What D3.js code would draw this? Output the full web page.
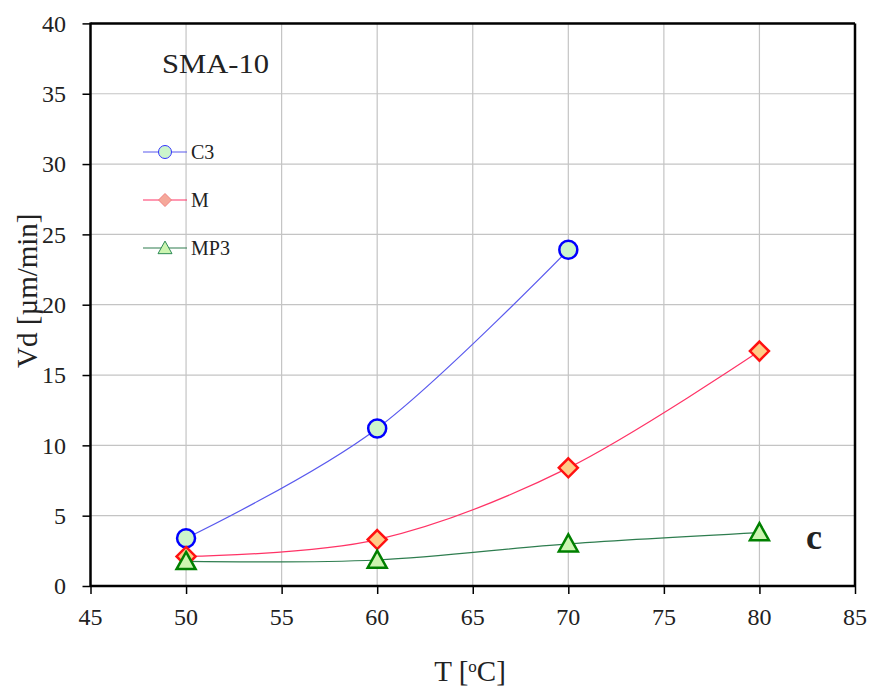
<!DOCTYPE html>
<html><head><meta charset="utf-8">
<script src="https://cdn.jsdelivr.net/npm/d3@7"></script>
<style>body{margin:0;background:#fff}svg{display:block}text{font-family:"Liberation Serif","Times New Roman",serif;fill:#222}</style>
</head><body><svg id="c" width="872" height="687"></svg>
<script>
const temps = [50, 60, 70, 80];
const c3 = [3.4, 11.2, 23.9];
const m = [2.1, 3.3, 8.4, 16.7];
const mp3 = [1.75, 1.85, 3.0, 3.8];
const xTicks = [45, 50, 55, 60, 65, 70, 75, 80, 85];
const yTicks = [0, 5, 10, 15, 20, 25, 30, 35, 40];
const seriesNames = ["C3", "M", "MP3"];

const FF = '"Liberation Serif","Times New Roman",serif';
const svg = d3.select("#c");
const L = 90.5, R = 855, T = 23.4, B = 586;
const x = d3.scaleLinear().domain([45, 85]).range([L, R]);
const y = d3.scaleLinear().domain([0, 40]).range([B, T]);

// grid
svg.append("g").selectAll("line").data(xTicks).join("line")
  .attr("x1", d => x(d)).attr("x2", d => x(d)).attr("y1", T).attr("y2", B)
  .attr("stroke", "#c4c4c4").attr("stroke-width", 1.2);
svg.append("g").selectAll("line").data(yTicks).join("line")
  .attr("y1", d => y(d)).attr("y2", d => y(d)).attr("x1", L).attr("x2", R)
  .attr("stroke", "#c4c4c4").attr("stroke-width", 1.2);

// axes (tick marks from d3.axis, labels drawn as own text)
const xa = svg.append("g").attr("transform", `translate(0,${B})`)
  .call(d3.axisBottom(x).tickValues(xTicks).tickSize(8).tickFormat(""));
const ya = svg.append("g").attr("transform", `translate(${L},0)`)
  .call(d3.axisLeft(y).tickValues(yTicks).tickSize(8).tickFormat(""));
[xa, ya].forEach(a => {
  a.select(".domain").remove();
  a.selectAll(".tick line").attr("stroke", "#000").attr("stroke-width", 1.5);
  a.selectAll(".tick text").remove();
});
svg.append("g").selectAll("text").data(xTicks).join("text")
  .attr("x", d => x(d)).attr("y", 625).attr("text-anchor", "middle")
  .style("font-family", FF).style("font-size", "24px").text(d => String(d));
svg.append("g").selectAll("text").data(yTicks).join("text")
  .attr("x", 66).attr("y", d => y(d)).attr("dy", "0.35em").attr("text-anchor", "end")
  .style("font-family", FF).style("font-size", "24px").text(d => String(d));

// frame
svg.append("line").attr("x1", L).attr("x2", R).attr("y1", T).attr("y2", T).attr("stroke", "#000").attr("stroke-width", 2.5);
svg.append("line").attr("x1", R).attr("x2", R).attr("y1", T).attr("y2", B).attr("stroke", "#000").attr("stroke-width", 2.5);
svg.append("line").attr("x1", L).attr("x2", R).attr("y1", B).attr("y2", B).attr("stroke", "#000").attr("stroke-width", 2.5);
svg.append("line").attr("x1", L).attr("x2", L).attr("y1", T-1).attr("y2", B+1).attr("stroke", "#000").attr("stroke-width", 2.5);

const line = d3.line().x(d => x(d[0])).y(d => y(d[1])).curve(d3.curveCardinal.tension(0));
const series = [
  {name: "C3", vals: c3, line: "#5a5aee", stroke: "#0000ff", fill: "#ccf5cc", shape: "circle"},
  {name: "M", vals: m, line: "#ff3366", stroke: "#ff1111", fill: "#ffcc88", shape: "diamond"},
  {name: "MP3", vals: mp3, line: "#2e7d4f", stroke: "#008000", fill: "#ccf5b0", shape: "triangle"}
];

function marker(g, shape, cx, cy, s, st, fill, sw) {
  if (shape === "circle") {
    g.append("circle").attr("cx", cx).attr("cy", cy).attr("r", s)
      .attr("fill", fill).attr("stroke", st).attr("stroke-width", sw);
  } else if (shape === "diamond") {
    g.append("path").attr("d", `M${cx},${cy-s}L${cx+s},${cy}L${cx},${cy+s}L${cx-s},${cy}Z`)
      .attr("fill", fill).attr("stroke", st).attr("stroke-width", sw);
  } else {
    const h = s * 1.8;
    g.append("path").attr("d", `M${cx},${cy-h*0.55}L${cx+s},${cy+h*0.45}L${cx-s},${cy+h*0.45}Z`)
      .attr("fill", fill).attr("stroke", st).attr("stroke-width", sw);
  }
}

series.forEach(s => {
  const pts = s.vals.map((v, i) => [temps[i], v]);
  svg.append("path").datum(pts).attr("d", line).attr("fill", "none")
    .attr("stroke", s.line).attr("stroke-width", 1.2);
});
series.forEach(s => {
  const g = svg.append("g");
  s.vals.forEach((v, i) => {
    const sz = s.shape === "circle" ? 9 : 9.5;
    marker(g, s.shape, x(temps[i]), y(v), sz, s.stroke, s.fill, 2.5);
  });
});

// legend
const legY = [152, 200, 248];
series.forEach((s, i) => {
  const g = svg.append("g");
  g.append("line").attr("x1", 143).attr("x2", 187).attr("y1", legY[i]).attr("y2", legY[i])
    .attr("stroke", s.line).attr("stroke-width", 1.2);
  const fill = s.shape === "diamond" ? "#f5a89a" : s.fill;
  const st = s.shape === "circle" ? "#3333ff" : (s.shape === "diamond" ? "#f08080" : "#2e8b57");
  marker(g, s.shape, 165, legY[i], s.shape === "triangle" ? 7 : 6.5, st, fill, 1);
  g.append("text").attr("x", 191).attr("y", legY[i]).attr("dy", "0.35em")
    .style("font-family", FF).style("font-size", "20px").text(seriesNames[i]);
});

svg.append("text").attr("x", 162).attr("y", 73).style("font-family", FF).style("font-size", "27px")
  .attr("textLength", 107).attr("lengthAdjust", "spacingAndGlyphs").text("SMA-10");
svg.append("text").attr("x", 806).attr("y", 549).style("font-family", FF).style("font-size", "36px")
  .attr("font-weight", "bold").attr("fill", "#111").text("c");

// axis titles
const xt = svg.append("text").attr("x", 470).attr("y", 681).attr("text-anchor", "middle")
  .style("font-family", FF).style("font-size", "29px");
xt.append("tspan").text("T [");
xt.append("tspan").attr("baseline-shift", "super").style("font-size", "17px").text("o");
xt.append("tspan").text("C]");
svg.append("text").attr("transform", `translate(37,${(T+B)/2 - 14}) rotate(-90)`)
  .attr("text-anchor", "middle").style("font-family", FF).style("font-size", "29px").text("Vd [µm/min]");
</script></body></html>
